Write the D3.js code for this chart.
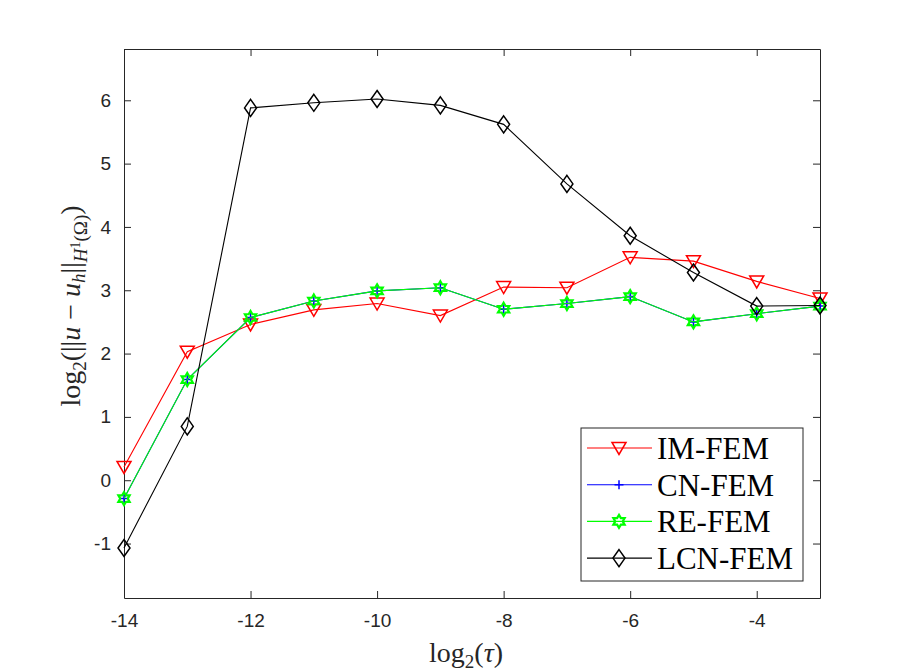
<!DOCTYPE html>
<html>
<head>
<meta charset="utf-8">
<script src="https://cdn.jsdelivr.net/npm/d3@7"></script>
<style>
  body { margin: 0; background: #fff; }
  svg { display: block; }
</style>
</head>
<body>
<div id="chart"></div>
<script>
// log2(tau) values
var steps = [-14, -13, -12, -11, -10, -9, -8, -7, -6, -5, -4, -3];
var imFem  = [0.21, 2.03, 2.46, 2.69, 2.79, 2.60, 3.05, 3.04, 3.52, 3.46, 3.14, 2.87];
var cnFem  = [-0.29, 1.59, 2.57, 2.83, 2.99, 3.04, 2.70, 2.79, 2.90, 2.50, 2.63, 2.75];
var reFem  = [-0.29, 1.59, 2.57, 2.83, 2.99, 3.04, 2.70, 2.79, 2.90, 2.50, 2.63, 2.75];
var lcnFem = [-1.07, 0.85, 5.88, 5.96, 6.02, 5.92, 5.62, 4.68, 3.86, 3.28, 2.75, 2.76];
var xTicks = [-14, -12, -10, -8, -6, -4];
var yTicks = [-1, 0, 1, 2, 3, 4, 5, 6];
var seriesNames = ["IM-FEM", "CN-FEM", "RE-FEM", "LCN-FEM"];

var width = 913, height = 672;
var mLeft = 124, mRight = 820, mTop = 49, mBottom = 598;
var axisColor = "#262626";

var svg = d3.select("#chart").append("svg")
    .attr("width", width)
    .attr("height", height);

var x = d3.scaleLinear().domain([-14, -3]).range([mLeft, mRight]);
var y = d3.scaleLinear().domain([-1.86, 6.81]).range([mBottom, mTop]);

// plain hyphen like matlab tick labels
var fmt = function(d) { return String(d); };

// markers
function triDown() {
    return "M-7,-5.5L7,-5.5L0,6.5Z";
}
function diamond() {
    return "M0,-8.5L6,0L0,8.5L-6,0Z";
}
function plus() {
    return "M-4.5,0H4.5M0,-4.5V4.5";
}
function hexagram() {
    var R = 6.5, r = R / Math.sqrt(3), pts = [];
    for (var i = 0; i < 12; i++) {
        var a = -Math.PI / 2 + i * Math.PI / 6;
        var rr = i % 2 === 0 ? R : r;
        pts.push([rr * Math.cos(a), rr * Math.sin(a)]);
    }
    return "M" + pts.map(function(p) { return p[0].toFixed(2) + "," + p[1].toFixed(2); }).join("L") + "Z";
}

var series = [
    { name: seriesNames[0], values: imFem,  color: "#ff0000", marker: triDown,  sw: 1.5 },
    { name: seriesNames[1], values: cnFem,  color: "#0000ff", marker: plus,     sw: 1.5 },
    { name: seriesNames[2], values: reFem,  color: "#00ff00", marker: hexagram, sw: 2.2 },
    { name: seriesNames[3], values: lcnFem, color: "#000000", marker: diamond,  sw: 1.5 }
];

// axes box
var gx = svg.append("g").attr("transform", "translate(0," + mBottom + ")")
    .call(d3.axisBottom(x).tickValues(xTicks).tickSizeInner(-7).tickSizeOuter(0).tickPadding(15).tickFormat(fmt));
var gxTop = svg.append("g").attr("transform", "translate(0," + mTop + ")")
    .call(d3.axisTop(x).tickValues(xTicks).tickSizeInner(-7).tickSizeOuter(0).tickFormat(""));
var gy = svg.append("g").attr("transform", "translate(" + mLeft + ",0)")
    .call(d3.axisLeft(y).tickValues(yTicks).tickSizeInner(-7).tickSizeOuter(0).tickPadding(13).tickFormat(fmt));
var gyRight = svg.append("g").attr("transform", "translate(" + mRight + ",0)")
    .call(d3.axisRight(y).tickValues(yTicks).tickSizeInner(-7).tickSizeOuter(0).tickFormat(""));

[gx, gxTop, gy, gyRight].forEach(function(g) {
    g.selectAll("path").attr("stroke", axisColor).attr("stroke-width", 1);
    g.selectAll("line").attr("stroke", axisColor).attr("stroke-width", 1);
    g.selectAll("text")
        .attr("fill", axisColor)
        .style("font-family", "'Liberation Sans', Arial, sans-serif")
        .style("font-size", "19px");
});
gx.selectAll("text").attr("dy", "0.75em");

// lines + markers
var line = d3.line()
    .x(function(d, i) { return x(steps[i]); })
    .y(function(d) { return y(d); });

series.forEach(function(s) {
    svg.append("path")
        .datum(s.values)
        .attr("d", line)
        .attr("fill", "none")
        .attr("stroke", s.color)
        .attr("stroke-width", 1.1);
    svg.append("g").selectAll("path")
        .data(s.values)
        .join("path")
        .attr("transform", function(d, i) { return "translate(" + x(steps[i]) + "," + y(d) + ")"; })
        .attr("d", s.marker())
        .attr("fill", "none")
        .attr("stroke", s.color)
        .attr("stroke-width", s.sw);
});

// axis labels
var serif = "'Liberation Serif', 'Times New Roman', serif";
var xl = svg.append("text")
    .attr("x", 466)
    .attr("y", 662)
    .attr("text-anchor", "middle")
    .style("font-family", serif)
    .style("font-size", "28px")
    .attr("fill", axisColor);
xl.append("tspan").text("log");
xl.append("tspan").attr("dy", 6).style("font-size", "19px").text("2");
xl.append("tspan").attr("dy", -6).text("(");
xl.append("tspan").style("font-style", "italic").text("τ");
xl.append("tspan").text(")");

var yl = svg.append("text")
    .attr("transform", "translate(80,306) rotate(-90)")
    .attr("text-anchor", "middle")
    .style("font-family", serif)
    .style("font-size", "28px")
    .attr("fill", axisColor);
yl.append("tspan").text("log");
yl.append("tspan").attr("dy", 6).style("font-size", "19px").text("2");
yl.append("tspan").attr("dy", -6).text("(||");
yl.append("tspan").style("font-style", "italic").text("u");
yl.append("tspan").text(" − ");
yl.append("tspan").style("font-style", "italic").text("u");
yl.append("tspan").attr("dy", 5).style("font-size", "19px").style("font-style", "italic").text("h");
yl.append("tspan").attr("dy", -5).text("||");
yl.append("tspan").attr("dy", 7).style("font-size", "19px").style("font-style", "italic").text("H");
yl.append("tspan").attr("dy", -7).style("font-size", "14px").text("1");
yl.append("tspan").attr("dy", 7).style("font-size", "19px").text("(Ω)");
yl.append("tspan").attr("dy", -7).text(")");

// legend
var lg = svg.append("g");
lg.append("rect")
    .attr("x", 581).attr("y", 428)
    .attr("width", 222).attr("height", 153)
    .attr("fill", "#fff")
    .attr("stroke", axisColor)
    .attr("stroke-width", 1);
series.forEach(function(s, i) {
    var ly = 448 + i * 36.7;
    lg.append("line")
        .attr("x1", 587).attr("x2", 652)
        .attr("y1", ly).attr("y2", ly)
        .attr("stroke", s.color).attr("stroke-width", 1.1);
    lg.append("path")
        .attr("transform", "translate(619," + ly + ")")
        .attr("d", s.marker())
        .attr("fill", "none")
        .attr("stroke", s.color)
        .attr("stroke-width", s.sw);
    lg.append("text")
        .attr("x", 657).attr("y", ly)
        .attr("dy", "0.35em")
        .style("font-family", serif)
        .style("font-size", "31px")
        .attr("fill", "#000")
        .text(s.name);
});
</script>
</body>
</html>
